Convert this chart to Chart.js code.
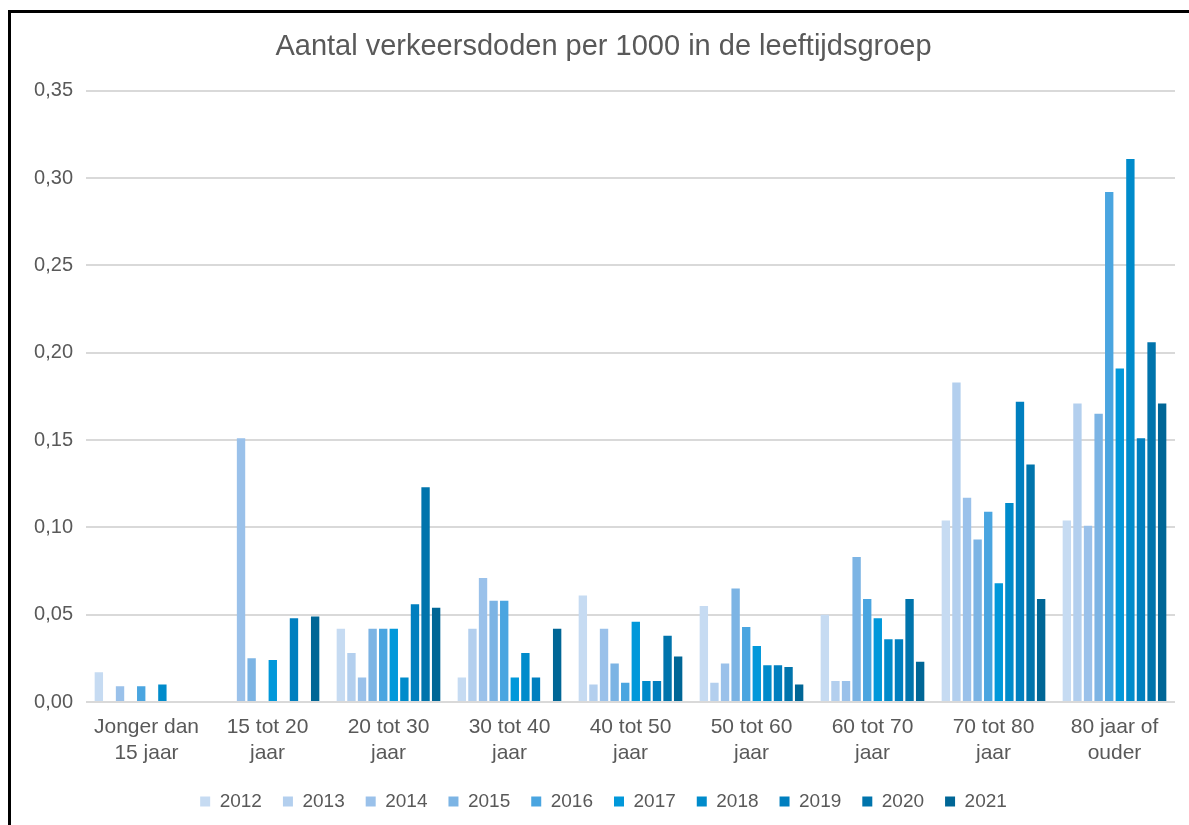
<!DOCTYPE html>
<html>
<head>
<meta charset="utf-8">
<script src="https://cdn.jsdelivr.net/npm/chart.js@4"></script>
<style>
    html, body { margin: 0; padding: 0; background: #fff; }
    #wrap { position: relative; width: 1189px; height: 825px; overflow: hidden; }
    #frame {
        position: absolute; left: 8px; top: 10px; right: -10px; bottom: -10px;
        border-left: 3px solid #000; border-top: 3px solid #000;
    }
    canvas { position: absolute; left: 0; top: 0; }
</style>
</head>
<body>
<div id="wrap">
    <canvas id="chart" width="1189" height="825"></canvas>
    <div id="frame"></div>
</div>
<script>
const categories = [
    ['Jonger dan', '15 jaar'], ['15 tot 20', 'jaar'], ['20 tot 30', 'jaar'],
    ['30 tot 40', 'jaar'], ['40 tot 50', 'jaar'], ['50 tot 60', 'jaar'],
    ['60 tot 70', 'jaar'], ['70 tot 80', 'jaar'], ['80 jaar of', 'ouder']
];
const years = ['2012', '2013', '2014', '2015', '2016', '2017', '2018', '2019', '2020', '2021'];
const yTicks = [0, 0.05, 0.10, 0.15, 0.20, 0.25, 0.30, 0.35];

// one array per year, in category order
const v2012 = [0.017, 0,     0.042, 0.014, 0.061, 0.055, 0.050, 0.104, 0.104];
const v2013 = [0,     0,     0.028, 0.042, 0.010, 0.011, 0.012, 0.183, 0.171];
const v2014 = [0.009, 0.151, 0.014, 0.071, 0.042, 0.022, 0.012, 0.117, 0.101];
const v2015 = [0,     0.025, 0.042, 0.058, 0.022, 0.065, 0.083, 0.093, 0.165];
const v2016 = [0.009, 0,     0.042, 0.058, 0.011, 0.043, 0.059, 0.109, 0.292];
const v2017 = [0,     0.024, 0.042, 0.014, 0.046, 0.032, 0.048, 0.068, 0.191];
const v2018 = [0.010, 0,     0.014, 0.028, 0.012, 0.021, 0.036, 0.114, 0.311];
const v2019 = [0,     0.048, 0.056, 0.014, 0.012, 0.021, 0.036, 0.172, 0.151];
const v2020 = [0,     0,     0.123, 0,     0.038, 0.020, 0.059, 0.136, 0.206];
const v2021 = [0,     0.049, 0.054, 0.042, 0.026, 0.010, 0.023, 0.059, 0.171];

const series = [v2012, v2013, v2014, v2015, v2016, v2017, v2018, v2019, v2020, v2021];
const colors = ['#c6dbf2', '#b3cfee', '#9ac1ea', '#7cb4e4', '#4aa5e0',
                '#0198da', '#008bcb', '#007fbf', '#0074ac', '#006696'];

const textColor = '#595959';
const fontFamily = '"Liberation Sans", Arial, sans-serif';

new Chart(document.getElementById('chart'), {
    type: 'bar',
    data: {
        labels: categories,
        datasets: years.map((y, i) => ({
            label: y,
            data: series[i],
            backgroundColor: colors[i],
            borderWidth: 0,
            barPercentage: 0.79,
            categoryPercentage: 0.875
        }))
    },
    options: {
        responsive: false,
        animation: false,
        layout: { padding: { left: 32, right: 14, top: 0, bottom: 4 } },
        scales: {
            x: {
                grid: { display: false },
                border: { display: false },
                afterFit: (scale) => { scale.height = 69; },
                ticks: {
                    color: textColor,
                    font: { family: fontFamily, size: 21, lineHeight: 1.2 },
                    padding: 5,
                    maxRotation: 0,
                    autoSkip: false
                }
            },
            y: {
                min: 0,
                max: 0.35,
                afterBuildTicks: (scale) => {
                    scale.ticks = yTicks.map(v => ({ value: v }));
                },
                afterFit: (scale) => { scale.width = 54; },
                grid: { color: '#d9d9d9', lineWidth: 2, drawTicks: false },
                border: { display: false },
                ticks: {
                    color: textColor,
                    font: { family: fontFamily, size: 20 },
                    padding: 13,
                    callback: (v) => v.toFixed(2).replace('.', ',')
                }
            }
        },
        plugins: {
            title: {
                display: true,
                text: 'Aantal verkeersdoden per 1000 in de leeftijdsgroep',
                color: textColor,
                font: { family: fontFamily, size: 29, weight: 'normal' },
                padding: { top: 30, bottom: 26 }
            },
            legend: {
                position: 'bottom',
                labels: {
                    color: textColor,
                    font: { family: fontFamily, size: 19 },
                    boxWidth: 10,
                    boxHeight: 10,
                    padding: 21
                }
            },
            tooltip: { enabled: false }
        }
    }
});
</script>
</body>
</html>
